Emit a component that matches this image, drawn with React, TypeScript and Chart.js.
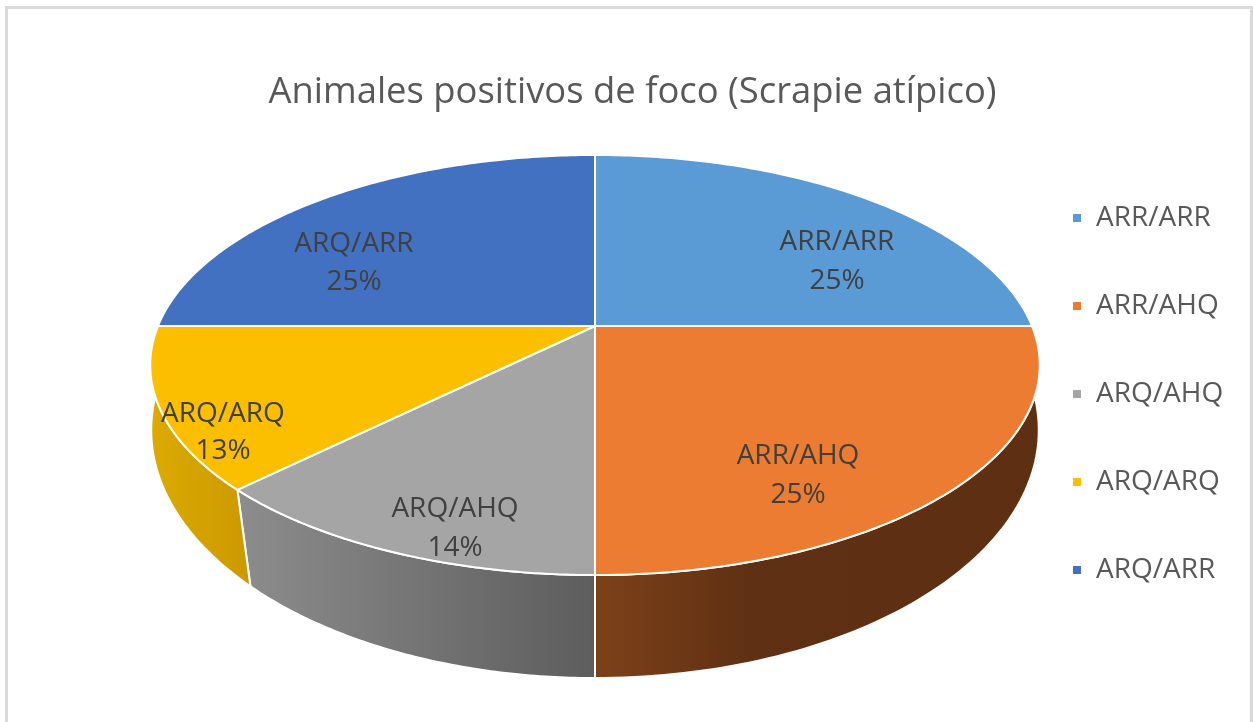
import React, { useEffect, useRef } from "react";
import { Chart, registerables } from "chart.js";

Chart.register(...registerables);

const categories = ["ARR/ARR", "ARR/AHQ", "ARQ/AHQ", "ARQ/ARQ", "ARQ/ARR"];
const sliceValues = [25, 25, 12.6, 12.4, 25];
const percentLabels = ["25%", "25%", "14%", "13%", "25%"];
const sliceColors = ["#5b9bd5", "#eb7c31", "#a5a5a5", "#fcbf00", "#4271c1"];
const titleText = "Animales positivos de foco (Scrapie atípico)";

const FONT = '"Open Sans", "Noto Sans", sans-serif';

// Perspective projection of the pie's unit disc: rim of the top face and rim of the bottom face.
const TOP = { x0: 595, y0: 326, a: 437, b: 202.8, p: -0.1857 };
const BOTTOM = { x0: 595, y0: 397.8, a: 440, b: 243.8, p: -0.13 };
type Rim = typeof TOP;
const project = (rim: Rim, angle: number, r = 1) => {
  const u = Math.cos(angle) * r;
  const v = Math.sin(angle) * r;
  const w = 1 + rim.p * v;
  return { x: rim.x0 + (rim.a * u) / w, y: rim.y0 + (rim.b * v) / w };
};

const sideGradients: Record<number, [number, number, [number, string][]]> = {
  1: [595, 1040, [[0, "#7d4119"], [0.35, "#5f3013"], [1, "#5e2f12"]]],
  2: [240, 595, [[0, "#8c8c8c"], [1, "#5d5d5d"]]],
  3: [150, 247, [[0, "#dcaa00"], [1, "#cc9a00"]]],
};

const labelCenters = [
  [837, 242.5, 281.5],
  [798, 456.5, 495.5],
  [455, 509.5, 548.5],
  [223, 414.5, 451.5],
  [354, 244.5, 282.5],
];

const LEGEND_PADDING = 60;

const pie3d = {
  id: "pie3d",
  afterLayout(chart: any) {
    const legend = chart.legend;
    const w = legend.right - legend.left;
    legend.left = 1072 - LEGEND_PADDING;
    legend.right = legend.left + w;
    legend.top += 33;
    legend.bottom += 33;
  },
  beforeDatasetsDraw(chart: any) {
    const ctx: CanvasRenderingContext2D = chart.ctx;
    const arcs = chart.getDatasetMeta(0).data;
    ctx.save();
    ctx.lineJoin = "round";
    ctx.strokeStyle = "#ffffff";

    // Side walls: every slice on the front half
    arcs.forEach((arc: any, i: number) => {
      const g = sideGradients[i];
      if (!g) return;
      const steps = 80;
      ctx.beginPath();
      for (let s = 0; s <= steps; s++) {
        const a = arc.startAngle + ((arc.endAngle - arc.startAngle) * s) / steps;
        const pt = project(TOP, a);
        s === 0 ? ctx.moveTo(pt.x, pt.y) : ctx.lineTo(pt.x, pt.y);
      }
      for (let s = steps; s >= 0; s--) {
        const a = arc.startAngle + ((arc.endAngle - arc.startAngle) * s) / steps;
        const pt = project(BOTTOM, a);
        ctx.lineTo(pt.x, pt.y);
      }
      ctx.closePath();
      const grad = ctx.createLinearGradient(g[0], 0, g[1], 0);
      g[2].forEach(([o, c]) => grad.addColorStop(o, c));
      ctx.fillStyle = grad;
      ctx.fill();
      ctx.lineWidth = 2;
      ctx.stroke();
    });

    // Top faces
    arcs.forEach((arc: any, i: number) => {
      const steps = 120;
      ctx.beginPath();
      ctx.moveTo(TOP.x0, TOP.y0);
      for (let s = 0; s <= steps; s++) {
        const a = arc.startAngle + ((arc.endAngle - arc.startAngle) * s) / steps;
        const pt = project(TOP, a);
        ctx.lineTo(pt.x, pt.y);
      }
      ctx.closePath();
      ctx.fillStyle = sliceColors[i];
      ctx.fill();
      ctx.lineWidth = 2;
      ctx.stroke();
    });

    // Data labels
    ctx.font = `28px ${FONT}`;
    ctx.fillStyle = "#404040";
    ctx.textAlign = "center";
    ctx.textBaseline = "middle";
    categories.forEach((name, i) => {
      const [x, y1, y2] = labelCenters[i];
      ctx.fillText(name, x, y1);
      ctx.fillText(percentLabels[i], x, y2);
    });
    ctx.restore();
    return false;
  },
};

export default function App() {
  const ref = useRef<HTMLCanvasElement>(null);
  useEffect(() => {
    document.body.style.margin = "0";
    document.body.style.background = "#ffffff";
    const chart = new Chart(ref.current!, {
      type: "pie",
      data: {
        labels: categories,
        datasets: [{ data: sliceValues, backgroundColor: sliceColors, borderColor: "#ffffff", borderWidth: 2 }],
      },
      options: {
        responsive: false,
        animation: false,
        layout: { padding: { left: 12 } },
        plugins: {
          title: {
            display: true,
            text: titleText,
            color: "#595959",
            font: { family: FONT, size: 36.4, weight: "normal" },
            padding: { top: 71, bottom: 10 },
          },
          legend: {
            position: "right",
            labels: {
              color: "#595959",
              font: { family: FONT, size: 28 },
              boxWidth: 10,
              boxHeight: 10,
              padding: LEGEND_PADDING,
            },
          },
          tooltip: { enabled: false },
        },
      },
      plugins: [pie3d],
    } as any);
    return () => chart.destroy();
  }, []);
  return (
    <div style={{ position: "relative", width: 1253, height: 722, overflow: "hidden", background: "#fff" }}>
      <div
        style={{
          position: "absolute",
          left: 5,
          top: 6,
          width: 1242,
          height: 716,
          borderTop: "3px solid #d9d9d9",
          borderLeft: "3px solid #d9d9d9",
          borderRight: "3px solid #d9d9d9",
        }}
      />
      <canvas ref={ref} width={1253} height={722} style={{ position: "absolute", left: 0, top: 0 }} />
    </div>
  );
}
